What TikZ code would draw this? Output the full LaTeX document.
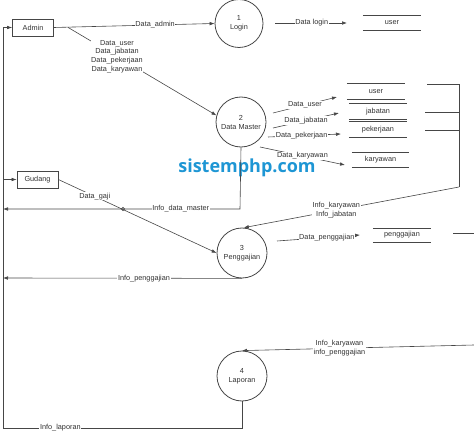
\documentclass[tikz,border=0pt]{standalone}
\usepackage{fontspec}
\setmainfont{Liberation Sans}
\newfontfamily\wmfont{Open Sans}
\usetikzlibrary{arrows.meta}
\definecolor{ln}{RGB}{70,70,70}
\definecolor{tx}{RGB}{50,50,50}
\definecolor{wm}{RGB}{30,150,212}
\tikzset{
  ent/.style={draw=ln, line width=0.7pt, minimum width=41pt, minimum height=17pt, inner sep=0pt, font=\fontsize{7.3}{8.5}\selectfont, text=tx},
  proc/.style={draw=ln, line width=0.8pt, circle, inner sep=0pt, align=center, font=\fontsize{7.3}{9}\selectfont, text=tx},
  store/.style={minimum width=58pt, minimum height=14pt, inner sep=0pt, font=\fontsize{7.3}{8.5}\selectfont, text=tx},
  lbl/.style={fill=white, inner sep=0.6pt, align=center, font=\fontsize{7.3}{8.6}\selectfont, text=tx},
  flow/.style={draw=ln, line width=0.6pt},
  arr/.style={flow, -{Latex[length=5pt,width=3.6pt]}},
}
\newcommand{\storelines}[1]{\draw[flow] (#1.north west) -- (#1.north east) (#1.south west) -- (#1.south east);}
\begin{document}
\begin{tikzpicture}[x=1pt,y=-1pt]
\useasboundingbox (0,0) rectangle (474,433);
% watermark
\node[text=wm, font=\wmfont\bfseries\fontsize{18}{20}\selectfont, inner sep=0pt] (wmk) at (247,168) {sistemphp.com};
% entities
\node[ent] (admin) at (33,27.5) {Admin};
\node[ent] (gudang) at (37.5,179.5) {Gudang};
% processes
\node[proc, minimum size=48pt] (p1) at (239,23.5) {1\\Login};
\node[proc, minimum size=50pt] (p2) at (241,122) {2\\Data Master};
\node[proc, minimum size=50pt] (p3) at (242,253) {3\\Penggajian};
\node[proc, minimum size=50pt] (p4) at (242,376) {4\\Laporan};
% stores
\node[store] (s1) at (392,23) {user}; \storelines{s1}
\node[store, minimum height=15pt] (s2) at (376,91.5) {user}; \storelines{s2}
\node[store, minimum height=15pt] (s3) at (378,111.5) {jabatan}; \storelines{s3}
\node[store, minimum height=15pt] (s4) at (378,129.5) {pekerjaan}; \storelines{s4}
\node[store, minimum width=57pt] (s5) at (380.5,160) {karyawan}; \storelines{s5}
\node[store] (s6) at (402,235) {penggajian}; \storelines{s6}
% coordinates
\coordinate (br) at (68,27.4);
\coordinate (dla) at (275,23);
\coordinate (dlb) at (347,23);
\coordinate (dua) at (273,113); \coordinate (dub) at (337,97);
\coordinate (dja) at (273,128); \coordinate (djb) at (339,113);
\coordinate (dpa) at (268,137); \coordinate (dpb) at (341,134);
\coordinate (dka) at (260,147); \coordinate (dkb) at (345,165);
\coordinate (b1) at (427,84); \coordinate (b2) at (425,112); \coordinate (b3) at (425,130);
\coordinate (bc) at (459,84); \coordinate (bd) at (459,187);
\coordinate (bm2) at (459,112); \coordinate (bm3) at (459,130);
\coordinate (dmc) at (240,209); \coordinate (dml) at (3,209);
\coordinate (ipl) at (3,278);
\coordinate (dga) at (277,241); \coordinate (dgb) at (360,235);
\coordinate (pra) at (453,233); \coordinate (prb) at (474,233);
\coordinate (lpa) at (474,345);
\coordinate (lpc) at (242,428); \coordinate (lpl) at (3,428); \coordinate (lpt) at (3,27.5);
\coordinate (gdl) at (3,179.5);
% flows
\draw[arr] (admin.east) -- node[lbl, pos=0.63] {Data\_admin} (p1.west);
\draw[arr] (br) -- node[lbl, pos=0.33] {Data\_user\\Data\_jabatan\\Data\_pekerjaan\\Data\_karyawan} (p2.165);
\draw[arr] (dla) -- node[lbl, pos=0.51] {Data login} (dlb);
\draw[arr] (dua) -- node[lbl, pos=0.5] {Data\_user} (dub);
\draw[arr] (dja) -- node[lbl, pos=0.5] {Data\_jabatan} (djb);
\draw[arr] (dpa) -- node[lbl, pos=0.46] {Data\_pekerjaan} (dpb);
\draw[arr] (dka) -- node[lbl, pos=0.5] {Data\_karyawan} (dkb);
\draw[flow] (b1) -- (bc) -- (bd);
\draw[flow] (b2) -- (bm2) (b3) -- (bm3);
\draw[arr] (bd) -- node[lbl, pos=0.57] {Info\_karyawan\\Info\_jabatan} (p3.86);
\draw[arr] (p2.south) -- (dmc) -- node[lbl, pos=0.25] {Info\_data\_master} (dml);
\draw[arr] (gudang.east) -- node[lbl, pos=0.23] {Data\_gaji} (p3.west);
\draw[flow] (123,209) circle (1.6);
\draw[arr] (p3.south) -- node[lbl, pos=0.41] {Info\_penggajian} (ipl);
\draw[arr] (dga) -- node[lbl, pos=0.6] {Data\_penggajian} (dgb);
\draw[flow] (pra) -- (prb);
\draw[arr] (lpa) -- node[lbl, pos=0.58] {Info\_karyawan\\info\_penggajian} (p4.north);
\draw[arr] (p4.south) -- (lpc) -- node[lbl, pos=0.76] {Info\_laporan} (lpl) -- (lpt) -- (admin.west);
\draw[arr] (gdl) -- (gudang.west);
\end{tikzpicture}
\end{document}
